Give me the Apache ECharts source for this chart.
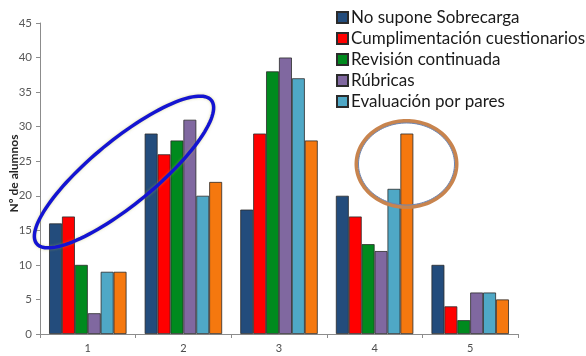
<!DOCTYPE html>
<html>
<head>
<meta charset="utf-8">
<script src="https://cdn.jsdelivr.net/npm/echarts@6/dist/echarts.min.js"></script>
<style>
html,body{margin:0;padding:0;background:#fff;}
#c{width:586px;height:356px;}
</style>
</head>
<body>
<div id="c"></div>
<script>
// Categories on the x axis
const categories = ['1', '2', '3', '4', '5'];

// Series names (the last series is not listed in the legend)
const seriesNames = [
  'No supone Sobrecarga',
  'Cumplimentación cuestionarios',
  'Revisión continuada',
  'Rúbricas',
  'Evaluación por pares',
  'Otros'
];

// Number of students per category, one array per series
const noSobrecarga   = [16, 29, 18, 20, 10];
const cuestionarios  = [17, 26, 29, 17, 4];
const revision       = [10, 28, 38, 13, 2];
const rubricas       = [3, 31, 40, 12, 6];
const pares          = [9, 20, 37, 21, 6];
const otros          = [9, 22, 28, 29, 5];

// Y axis ticks
const yTicks = [0, 5, 10, 15, 20, 25, 30, 35, 40, 45];

const seriesData = [noSobrecarga, cuestionarios, revision, rubricas, pares, otros];
const colors = ['#234C7C', '#FF0000', '#008A1E', '#8068A0', '#4FA8C6', '#F5780F'];

const chart = echarts.init(document.getElementById('c'), null, {renderer: 'canvas'});

// Parametric ellipse outline for the highlight rings
function ellipsePoints(cx, cy, a, b, angleDeg) {
  const pts = [];
  const t = angleDeg * Math.PI / 180;
  for (let i = 0; i < 120; i++) {
    const u = i / 120 * Math.PI * 2;
    const x = a * Math.cos(u), y = b * Math.sin(u);
    pts.push([cx + x * Math.cos(t) - y * Math.sin(t), cy + x * Math.sin(t) + y * Math.cos(t)]);
  }
  return pts;
}

chart.setOption({
  animation: false,
  backgroundColor: '#ffffff',
  textStyle: {fontFamily: 'Lato, sans-serif'},
  grid: {left: 40, right: 68, top: 23, bottom: 22, containLabel: false, outerBoundsMode: 'none'},
  legend: {
    data: seriesNames.slice(0, 5),
    orient: 'vertical',
    left: 331,
    top: 4,
    itemWidth: 11,
    itemHeight: 11,
    itemGap: 4,
    icon: 'rect',
    selectedMode: false,
    textStyle: {fontSize: 17, color: '#1a1a1a', fontFamily: 'Lato, sans-serif', padding: [0, 0, 0, -2]}
  },
  xAxis: {
    type: 'category',
    data: categories,
    axisLine: {lineStyle: {color: '#8c8c8c', width: 1}},
    axisTick: {show: true, length: 4, lineStyle: {color: '#8c8c8c'}},
    axisLabel: {color: '#4d4d4d', fontSize: 11, margin: 9}
  },
  yAxis: {
    type: 'value',
    min: yTicks[0],
    max: yTicks[yTicks.length - 1],
    interval: yTicks[1] - yTicks[0],
    name: 'Nº de alumnos',
    nameLocation: 'middle',
    nameGap: 20,
    nameMoveOverlap: false,
    nameTextStyle: {fontSize: 12, fontWeight: 'bold', color: '#262626', padding: [0, 0, 0, 10]},
    splitLine: {show: false},
    axisLine: {show: true, lineStyle: {color: '#8c8c8c', width: 1}},
    axisTick: {show: true, length: 4, lineStyle: {color: '#8c8c8c'}},
    axisLabel: {color: '#595959', fontSize: 11.5, margin: 8}
  },
  series: seriesNames.map((name, i) => ({
    name: name,
    type: 'bar',
    data: seriesData[i],
    barGap: '0%',
    barCategoryGap: '19%',
    itemStyle: {color: colors[i], borderColor: '#2b2b2b', borderWidth: 0.8}
  })),
  graphic: [
    {
      type: 'polygon',
      shape: {points: ellipsePoints(124, 172, 113, 32, -39.4)},
      style: {fill: 'none', stroke: '#1414D2', lineWidth: 3.5, shadowBlur: 3, shadowColor: 'rgba(180,180,60,0.5)'},
      z: 100
    },
    {
      type: 'polygon',
      shape: {points: ellipsePoints(406.5, 164, 50, 43, 0)},
      style: {fill: 'none', stroke: '#C8844E', lineWidth: 4},
      z: 100
    },
    {
      type: 'polygon',
      shape: {points: ellipsePoints(406.5, 164, 48, 41, 0)},
      style: {fill: 'none', stroke: '#6C86B4', lineWidth: 1},
      z: 101
    }
  ]
});
</script>
</body>
</html>
